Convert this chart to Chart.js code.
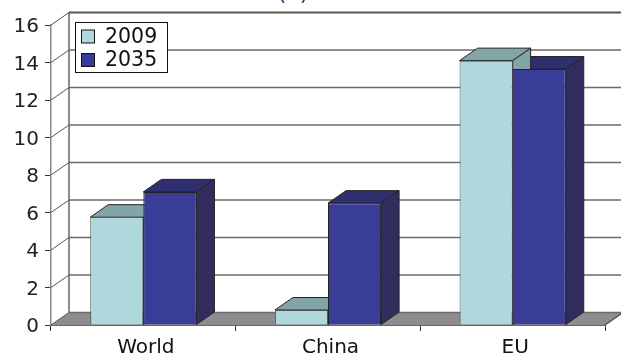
<!DOCTYPE html>
<html>
<head>
<meta charset="utf-8">
<style>
  html, body { margin: 0; padding: 0; background: #fff; overflow: hidden; }
  #wrap { position: relative; width: 621px; height: 353px; }
</style>
<script src="https://cdn.jsdelivr.net/npm/chart.js@4"></script>
</head>
<body>
<div id="wrap"><canvas id="chart" width="621" height="353"></canvas></div>
<script>
  // DATA
  const regions    = ['World', 'China', 'EU'];
  const values2009 = [5.75, 0.8, 14.1];
  const values2035 = [7.1, 6.5, 13.65];
  const yTicks     = [0, 2, 4, 6, 8, 10, 12, 14, 16];
  const seriesNames = ['2009', '2035'];
  const panelTitle = '(a)';

  // LOOK
  const FONT = '20.5px "DejaVu Sans"';
  const DEPTH_X = 18;
  const DEPTH_Y = 12.5;
  const faceColors = ['#aed8db', '#393d97'];
  const topColors  = ['#84a5a8', '#2f2f70'];
  const sideColors = ['#84a5a8', '#312e5e'];

  function poly(ctx, pts, fill, stroke, width) {
    ctx.beginPath();
    pts.forEach((p, i) => i ? ctx.lineTo(p[0], p[1]) : ctx.moveTo(p[0], p[1]));
    ctx.closePath();
    ctx.fillStyle = fill;
    ctx.fill();
    if (stroke) {
      ctx.strokeStyle = stroke;
      ctx.lineWidth = width || 1;
      ctx.stroke();
    }
  }

  // back wall, floor, diagonal gridlines, then the depth of every bar
  // (all before the datasets, so the flat bar faces land on top)
  const wallPlugin = {
    id: 'wall',
    beforeDatasetsDraw(chart) {
      const { ctx, scales: { x, y } } = chart;
      const left = x.left, right = x.right, base = y.getPixelForValue(0);
      ctx.save();
      poly(ctx, [[left, base], [left + DEPTH_X, base - DEPTH_Y], [right + DEPTH_X, base - DEPTH_Y], [right, base]], '#8e8c91');
      yTicks.forEach(v => {
        const py = y.getPixelForValue(v);
        ctx.strokeStyle = v === 16 ? '#555' : '#6a6a6a';
        ctx.lineWidth = v === 16 ? 2 : 1.5;
        ctx.beginPath();
        ctx.moveTo(left + DEPTH_X, py - DEPTH_Y);
        ctx.lineTo(right + DEPTH_X, py - DEPTH_Y);
        ctx.stroke();
        ctx.strokeStyle = '#555';
        ctx.lineWidth = 1;
        ctx.beginPath();
        ctx.moveTo(left, py);
        ctx.lineTo(left + DEPTH_X, py - DEPTH_Y);
        ctx.stroke();
      });
      ctx.strokeStyle = '#666';
      ctx.lineWidth = 1.5;
      ctx.beginPath();
      ctx.moveTo(left + DEPTH_X, y.getPixelForValue(16) - DEPTH_Y);
      ctx.lineTo(left + DEPTH_X, base - DEPTH_Y);
      ctx.stroke();
      ctx.strokeStyle = '#555';
      ctx.beginPath();
      ctx.moveTo(right, base);
      ctx.lineTo(right + DEPTH_X, base - DEPTH_Y);
      ctx.stroke();

      regions.forEach((_, i) => {
        [1, 0].forEach(ds => {
          const bar = chart.getDatasetMeta(ds).data[i];
          const l = bar.x - bar.width / 2, r = bar.x + bar.width / 2;
          const t = bar.y, b = bar.base;
          poly(ctx, [[l, t], [l + DEPTH_X, t - DEPTH_Y], [r + DEPTH_X, t - DEPTH_Y], [r, t]], topColors[ds], '#222', 1);
          poly(ctx, [[r, t], [r + DEPTH_X, t - DEPTH_Y], [r + DEPTH_X, b - DEPTH_Y], [r, b]], sideColors[ds], '#222', 1);
        });
      });
      ctx.restore();
    }
  };

  const legendPlugin = {
    id: 'legendBox',
    afterDraw(chart) {
      const { ctx } = chart;
      ctx.save();
      ctx.fillStyle = '#fff';
      ctx.strokeStyle = '#111';
      ctx.lineWidth = 1;
      ctx.fillRect(75.5, 22.5, 92, 50);
      ctx.strokeRect(75.5, 22.5, 92, 50);
      ctx.font = FONT;
      ctx.textBaseline = 'middle';
      seriesNames.forEach((name, i) => {
        const cy = 36.5 + i * 23.5;
        ctx.fillStyle = faceColors[i];
        ctx.fillRect(81.5, cy - 6.5, 13, 13);
        ctx.strokeRect(81.5, cy - 6.5, 13, 13);
        ctx.fillStyle = '#111';
        ctx.fillText(name, 105, cy + 1);
      });
      // panel title, cut off by the top of the picture
      ctx.fillStyle = '#1f3a7a';
      ctx.font = '22px "DejaVu Sans"';
      ctx.textAlign = 'center';
      ctx.textBaseline = 'alphabetic';
      ctx.fillText(panelTitle, 293, 0);
      ctx.restore();
    }
  };

  new Chart(document.getElementById('chart').getContext('2d'), {
    type: 'bar',
    data: {
      labels: regions,
      datasets: [
        { label: seriesNames[0], data: values2009, backgroundColor: faceColors[0], borderColor: '#555', borderWidth: 1 },
        { label: seriesNames[1], data: values2035, backgroundColor: faceColors[1], borderColor: '#222', borderWidth: 1 }
      ]
    },
    plugins: [wallPlugin, legendPlugin],
    options: {
      responsive: false,
      animation: false,
      devicePixelRatio: 1,
      layout: { padding: { left: 0, right: 16, top: 25, bottom: 0 } },
      datasets: { bar: { categoryPercentage: 0.575, barPercentage: 1 } },
      scales: {
        x: {
          grid: { drawOnChartArea: false, color: '#333', tickLength: 6, lineWidth: 1 },
          border: { color: '#666', width: 2 },
          ticks: { color: '#111', font: { family: 'DejaVu Sans', size: 20 }, padding: 5, maxRotation: 0, labelOffset: 2.5 },
          afterFit: scale => { scale.height = 28; }
        },
        y: {
          min: 0,
          max: 16,
          grid: { drawOnChartArea: false, color: '#333', tickLength: 6 },
          border: { color: '#888', width: 1.5 },
          afterBuildTicks: scale => { scale.ticks = yTicks.map(v => ({ value: v })); },
          afterFit: scale => { scale.width = 51; },
          ticks: { color: '#222', font: { family: 'DejaVu Sans', size: 20 }, padding: 6, labelOffset: 2 }
        }
      },
      plugins: { legend: { display: false }, tooltip: { enabled: false } }
    }
  });
</script>
</body>
</html>
